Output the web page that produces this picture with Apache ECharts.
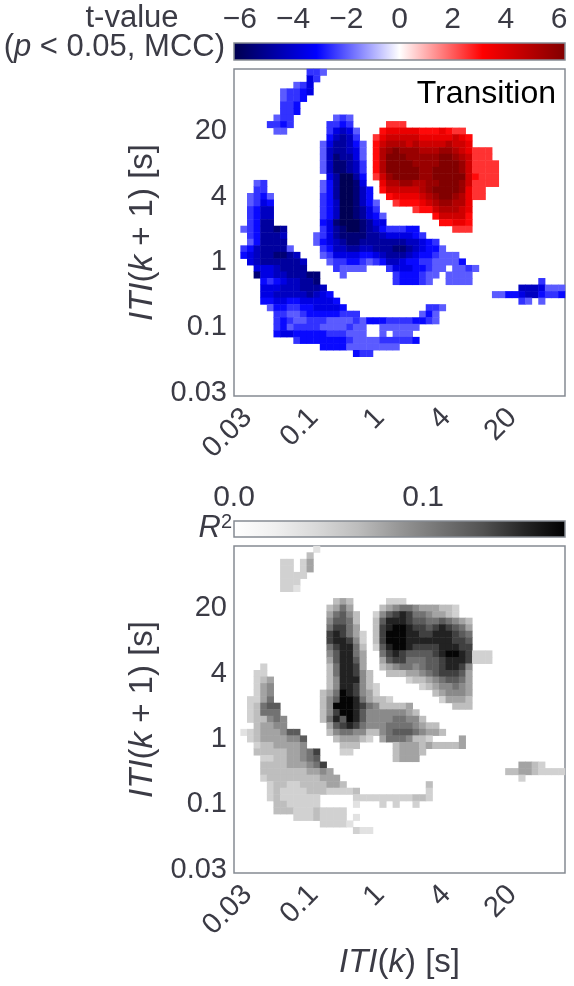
<!DOCTYPE html>
<html>
<head>
<meta charset="utf-8">
<script src="https://cdn.jsdelivr.net/npm/echarts@6/dist/echarts.min.js"></script>
<style>
html,body{margin:0;padding:0;background:#fff;}
#chart{width:574px;height:986px;}
</style>
</head>
<body>
<div id="chart"></div>
<script>
// ---- data ----
// 50 x 50 log-spaced bins; rows listed from top (longest ITI(k+1)) to bottom.
// each row: "startColumn:cells" segments; '.' = not significant (empty)
const N_BINS = 50;
const TICK_AT = [0, 10, 20, 30, 40];
const TICK_TEXT = ['0.03', '0.1', '1', '4', '20'];

// t-value levels
const T_LEVELS = {a:-2.0,b:-2.5,c:-3.0,d:-3.6,e:-4.2,f:-4.8,g:-5.5,h:-6.1,
                  A:2.0,B:2.5,C:3.0,D:3.6,E:4.3,F:5.0,G:5.6,H:6.2};
const T_ROWS = [
"11:bba",
"11:db",
"9:abd",
"7:abbcd",
"7:abbc",
"7:bbc",
"7:bbc",
"6:abb 15:aba",
"5:bbcb 14:bbcb 23:BBB",
"6:aa 14:bdeda 22:CDDDDDCCCDCBB",
"14:cefeb 21:BDEEEEEDDDDDEDC",
"13:adffeca 21:CEFFFEFEEEEFEED",
"13:aeffeda 21:CFGHGGGFFFGGFEDBBB",
"13:aegffda 21:CFHHHGGGGGHHGFEBBB",
"13:aeggfeb 21:CFHHHHGGGGHHHGEBBBB",
"13:aeggfeb 21:CFHHHHHGGHHHHGEBBBB",
"14:dfhhfc 21:BEGHHHHGGHHHHHECBBB",
"3:ab 13:acfhhgd 22:DFFGGFFGGHHHGEBBBB",
"3:bb 13:acfhhgec 22:CEEEEEFGHHHHGDBB",
"2:abca 13:bcfhhgec 23:CDDDDEFGHHGFDBB",
"2:abdc 13:bcehhgeca 24:BCCCDEFGGFFD",
"2:bcee 13:bcehhgfdb 27:BCCEFFFED",
"2:bcee 13:bcehhgfdca 30:CEEEEC",
"2:bcff 13:cdghhhgfdd 31:CCDDC",
"1:abcffgf 13:bdfghhgfecbbbcc 33:BBB",
"2:bcfffe 12:abdfggggffeddddcb",
"2:acffff 12:acdefggfffffffeedcb",
"1:bceffffa 13:bceeffeefffggfedcca",
"1:cdeffggfe 13:abddddccdefffedccbaaa",
"2:deffffffe 14:abbccbabceedccbbaaaac",
"3:dddeffff 15:baaaa 23:bdddccbaa.aaba",
"3:gddeefffgg 16:a 24:bcccbaa.aaaa",
"4:cbcdeeffg 24:bcccba 32:aaaa 46:b",
"4:dddeeefffe 43:eeedaaa",
"4:ddeeeeefedc 39:aaccdeecbbc",
"4:ccddccdddddc 43:ba.a",
"5:accbbccddddc 29:bba",
"6:bbaabcccccbbb 28:aca",
"6:bcbaabbbaaaabacccbbbbccba",
"6:bcabbbbaaaabaa 22:aaaaaa",
"6:cddcccccbbbaaa 22:a.aaa",
"9:bcccccccbaaaabbbbbc",
"13:ccccaaaaaaaa",
"18:cbb",
"", "", "", "", "", ""
];

// R^2 levels
const R_LEVELS = {'1':0.035,'2':0.05,'3':0.065,'4':0.08,'5':0.095,'6':0.11,'7':0.125,'8':0.14,'9':0.155,'0':0.172};
const R_ROWS = [
"12:1",
"11:3",
"7:22.24",
"7:22.24",
"7:2222",
"7:222",
"7:221",
"",
"15:343 23:222",
"14:3464 22:345665444332",
"14:46753 21:2578986654432",
"14:57763 21:379998776676543",
"14:68864 21:389009887898764",
"14:898642 21:380009988999876",
"14:899852 21:380009999999887",
"14:689963 21:279009888899988",
"14:579964 22:68987777890098222",
"14:479974 22:47886667789998222",
"4:2 14:369984 22:34566567789985",
"3:22 14:3699853 23:3334456788874",
"3:234 14:3599953 26:2334567764",
"3:245 14:35998532 28:23455654",
"3:245 13:346098542 30:345554",
"2:2246 13:35700964332 31:24443",
"2:23677 13:35000986533334 33:333",
"2:23666 13:358009755555543",
"2:233565 13:3697097555566553",
"3:34455 14:47898655566665433",
"1:123444577 14:356655335677765443",
"2:234444557 15:344432 22:46665332 34:4",
"3:23344445 16:333 24:34443433334",
"3:3333344568 16:22 24:34443",
"4:223344567 24:3444",
"4:3333444568 43:4432",
"4:33333334454 41:334432222",
"4:233333333444 43:2",
"5:233223333443 29:3",
"5:23222233322223 29:2",
"5:23222222 18:222222222332",
"6:3322222 18:1 22:2.2..2",
"6:33322232222",
"9:22232222 18:1",
"13:22221",
"18:211",
"", "", "", "", "", ""
];

const T_RANGE = [-6.22, 6.22];
const R_RANGE = [0, 0.175];
const T_BAR_TICKS = [-6, 6, 2];
const R_BAR_TICKS = [0, 0.1];

// ---- helpers ----
function decode(rows, levels) {
  const out = [];
  rows.forEach((row, r) => {
    if (!row) return;
    row.split(' ').forEach(seg => {
      const parts = seg.split(':');
      const start = +parts[0];
      [...parts[1]].forEach((ch, k) => {
        if (ch === '.') return;
        out.push([start + k, N_BINS - 1 - r, levels[ch]]);
      });
    });
  });
  return out;
}
const bins = Array.from({length: N_BINS}, (_, i) => String(i));
const tData = decode(T_ROWS, T_LEVELS);
const rData = decode(R_ROWS, R_LEVELS);

const FONT = "'Liberation Sans', Arial, Helvetica, sans-serif";
const TXT = '#3b3b45';
const FRAME = '#858a92';
const SEISMIC = ['#00004d', '#0000ff', '#ffffff', '#ff0000', '#800000'];
const GREYS = ['#ffffff','#f0f0f0','#d9d9d9','#bdbdbd','#969696','#737373','#525252','#252525','#000000'];
const TICK_FS = 29, TITLE_FS = 33, BAR_FS = 30, SIDE_FS = 31;

function tickInterval(idx) { return TICK_AT.indexOf(idx) >= 0; }
function tickFormatter(v, idx) {
  const k = TICK_AT.indexOf(+v);
  return k >= 0 ? TICK_TEXT[k] : '';
}
const nameRich = {it: {fontStyle: 'italic', fontSize: TITLE_FS, fontFamily: FONT, color: TXT}};

function xCat(gi, withName) {
  const a = {
    type: 'category', gridIndex: gi, data: bins,
    axisLine: {show: false}, axisTick: {show: false}, splitLine: {show: false},
    axisLabel: {interval: (i) => tickInterval(i), formatter: tickFormatter, rotate: 45,
      align: 'right', verticalAlign: 'top', margin: 7,
      fontSize: TICK_FS, fontFamily: FONT, color: TXT},
  };
  if (withName) {
    a.name = '{it|ITI}({it|k}) [s]';
    a.nameLocation = 'middle';
    a.nameGap = 73;
    a.nameTextStyle = {fontSize: TITLE_FS, fontFamily: FONT, color: TXT, rich: nameRich};
  }
  return a;
}
function yCat(gi) {
  return {
    type: 'category', gridIndex: gi, data: bins,
    axisLine: {show: false}, axisTick: {show: false}, splitLine: {show: false},
    axisLabel: {interval: (i) => tickInterval(i), formatter: tickFormatter, margin: 7,
      fontSize: TICK_FS, fontFamily: FONT, color: TXT},
    name: '{it|ITI}({it|k} + 1) [s]', nameLocation: 'middle', nameGap: 71, nameRotate: 90,
    nameTextStyle: {fontSize: TITLE_FS, fontFamily: FONT, color: TXT, rich: nameRich}
  };
}

const chart = echarts.init(document.getElementById('chart'), null, {renderer: 'canvas'});
const option = {
  backgroundColor: '#ffffff',
  animation: false,
  grid: [
    {left: 234, top: 69, width: 331, height: 327, show: true, borderColor: FRAME, borderWidth: 1.5, backgroundColor: '#fff'},
    {left: 234, top: 546, width: 331, height: 327, show: true, borderColor: FRAME, borderWidth: 1.5, backgroundColor: '#fff'},
    {left: 234 + 331 * (T_BAR_TICKS[0] - T_RANGE[0]) / (T_RANGE[1] - T_RANGE[0]), top: 43,
     width: 331 * (T_BAR_TICKS[1] - T_BAR_TICKS[0]) / (T_RANGE[1] - T_RANGE[0]), height: 17},
    {left: 234, top: 521, width: 331, height: 16}
  ],
  xAxis: [
    xCat(0, false),
    xCat(1, true),
    {type: 'value', gridIndex: 2, position: 'top', min: T_BAR_TICKS[0], max: T_BAR_TICKS[1], interval: T_BAR_TICKS[2],
     axisLine: {show: false}, axisTick: {show: false}, splitLine: {show: false},
     axisLabel: {margin: 8, fontSize: BAR_FS, fontFamily: FONT, color: TXT,
       formatter: v => v < 0 ? '\u2212' + (-v) : String(v)}},
    {type: 'value', gridIndex: 3, position: 'top', min: R_RANGE[0], max: R_RANGE[1], interval: R_BAR_TICKS[1] - R_BAR_TICKS[0],
     axisLine: {show: false}, axisTick: {show: false}, splitLine: {show: false},
     axisLabel: {margin: 8, fontSize: BAR_FS, fontFamily: FONT, color: TXT, showMaxLabel: false,
       formatter: v => v.toFixed(1)}}
  ],
  yAxis: [
    yCat(0),
    yCat(1),
    {type: 'value', gridIndex: 2, show: false},
    {type: 'value', gridIndex: 3, show: false}
  ],
  visualMap: [
    {type: 'continuous', show: false, seriesIndex: 0, min: T_RANGE[0], max: T_RANGE[1], inRange: {color: SEISMIC}},
    {type: 'continuous', show: false, seriesIndex: 1, min: R_RANGE[0], max: R_RANGE[1], inRange: {color: GREYS}}
  ],
  series: [
    {type: 'heatmap', xAxisIndex: 0, yAxisIndex: 0, data: tData, progressive: 0, emphasis: {disabled: true}},
    {type: 'heatmap', xAxisIndex: 1, yAxisIndex: 1, data: rData, progressive: 0, emphasis: {disabled: true}}
  ],
  graphic: [
    {type: 'rect', shape: {x: 234, y: 43, width: 331, height: 17}, z: 10,
     style: {fill: new echarts.graphic.LinearGradient(0, 0, 1, 0,
       SEISMIC.map((c, i) => ({offset: i / (SEISMIC.length - 1), color: c}))), stroke: FRAME, lineWidth: 1.5}},
    {type: 'rect', shape: {x: 234, y: 521, width: 331, height: 16}, z: 10,
     style: {fill: new echarts.graphic.LinearGradient(0, 0, 1, 0,
       GREYS.map((c, i) => ({offset: i / (GREYS.length - 1), color: c}))), stroke: FRAME, lineWidth: 1.5}},
    {type: 'text', z: 10, style: {text: 't-value', x: 132, y: 18, align: 'center', verticalAlign: 'middle',
      fontSize: SIDE_FS, fontFamily: FONT, fill: TXT}},
    {type: 'text', z: 10, style: {text: '({i|p} < 0.05, MCC)', x: 225, y: 47, align: 'right', verticalAlign: 'middle',
      fontSize: SIDE_FS, fontFamily: FONT, fill: TXT, rich: {i: {fontStyle: 'italic', fontSize: SIDE_FS, fontFamily: FONT, fill: TXT}}}},
    {type: 'text', z: 10, style: {text: '{i|R}{s|2}', x: 232, y: 528, align: 'right', verticalAlign: 'middle',
      fontSize: SIDE_FS, fontFamily: FONT, fill: TXT,
      rich: {i: {fontStyle: 'italic', fontSize: SIDE_FS, fontFamily: FONT, fill: TXT, verticalAlign: 'bottom'},
             s: {fontSize: 20, fontFamily: FONT, fill: TXT, verticalAlign: 'top'}}}},
    {type: 'text', z: 10, style: {text: 'Transition', x: 556, y: 94, align: 'right', verticalAlign: 'middle',
      fontSize: 32, fontFamily: FONT, fill: '#000'}}
  ]
};
chart.setOption(option);
</script>
</body>
</html>
